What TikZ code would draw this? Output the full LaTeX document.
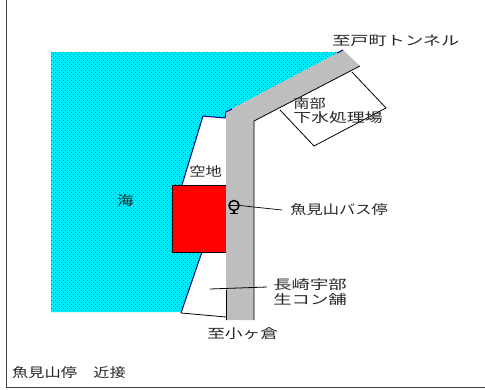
\documentclass[tikz,border=0pt]{standalone}
\usepackage{fontspec}
\setmainfont{Noto Sans CJK JP}
\definecolor{seacol}{RGB}{0,235,250}
\definecolor{dotcol}{RGB}{10,130,180}
\definecolor{roadcol}{RGB}{190,190,190}
\definecolor{edgeblue}{RGB}{0,0,140}
\tikzset{
  lab/.style={inner sep=0pt,anchor=west,font=\fontsize{13}{14}\selectfont,text=black!85,xscale=1.25},
  thinline/.style={draw=black,line width=0.8pt},
  shoreline/.style={draw=edgeblue,line width=1pt},
  dotrowA/.style={draw=dotcol,line width=1.1pt,dash pattern=on 1.2pt off 2.8pt},
  dotrowB/.style={draw=dotcol,line width=1.1pt,dash pattern=on 1.2pt off 2.8pt,dash phase=2pt}
}
\begin{document}
\begin{tikzpicture}[x=1pt,y=-1pt]
\useasboundingbox (0,0) rectangle (485,389);
\draw[line width=1pt,black!75] (6.5,0) -- (6.5,387) -- (485,387);
\fill[seacol] (51,52) -- (343,52) -- (343,50) -- (226,112) -- (225,118) -- (203,116) -- (182,185) -- (172,185) -- (172,252) -- (202,252) -- (181,312) -- (51,312) -- cycle;
\begin{scope}
\clip (51,52) -- (343,52) -- (343,50) -- (226,112) -- (225,118) -- (203,116) -- (182,185) -- (172,185) -- (172,252) -- (202,252) -- (181,312) -- (51,312) -- cycle;
\foreach \k in {0,...,65} {
  \draw[dotrowA] (51,{52.5+4*\k}) -- (345,{52.5+4*\k});
  \draw[dotrowB] (51,{54.5+4*\k}) -- (345,{54.5+4*\k});
}
\end{scope}
\draw[shoreline] (226,112) -- (225,118) -- (203,116) -- (182,185);
\draw[shoreline] (202,252) -- (181,313);
\draw[thinline] (181,313) -- (226,317);
\draw[thinline] (352,72) -- (386,108) -- (314,146) -- (280,110);
\fill[roadcol] (343,50) -- (360,66) -- (254,121) -- (254,320) -- (226,320) -- (226,112) -- cycle;
\draw[shoreline] (226,112) -- (232,109) (337,53) -- (343,50);
\draw[thinline] (360,66) -- (254,121) -- (254,320);
\draw[black,line width=0.5pt] (226,320) -- (226,290);
\fill[red] (172,185) rectangle (226,252);
\draw[black,line width=0.6pt] (172,252) -- (172,185) -- (226,185) (172,252) -- (226,252);
\node[circle,draw=black,line width=1.5pt,minimum size=10pt,inner sep=0pt] (busstop) at (234,205.5) {};
\draw[black,line width=1.4pt] (229,205.5) -- (239,205.5) (234,210) -- (234,213) (230,213.5) -- (238,213.5);
\coordinate (leadA) at (282,210);
\draw[black,line width=0.7pt] (busstop.east) -- (leadA);
\coordinate (leadB) at (210,289);
\coordinate (leadC) at (267,287);
\draw[black,line width=0.8pt] (leadB) -- (leadC);
\node[lab,xscale=1.12] (tunnel) at (332,41) {至戸町トンネル};
\node[lab] (nanbu) at (293,104) {南部};
\node[lab,xscale=1.1] (gesui) at (293,118) {下水処理場};
\node[lab] (akichi) at (189,171) {空地};
\node[lab] (umi) at (117,201) {海};
\node[lab] (busname) at (290,210) {魚見山バス停};
\node[lab,xscale=1.13] (nagasaki) at (273,285) {長崎宇部};
\node[lab,xscale=1.13] (namakon) at (273,300) {生コン舗};
\node[lab,xscale=1.09] (kokura) at (207,334) {至小ヶ倉};
\node[lab] (caption) at (12,373) {魚見山停\hspace{1em}近接};
\end{tikzpicture}
\end{document}
